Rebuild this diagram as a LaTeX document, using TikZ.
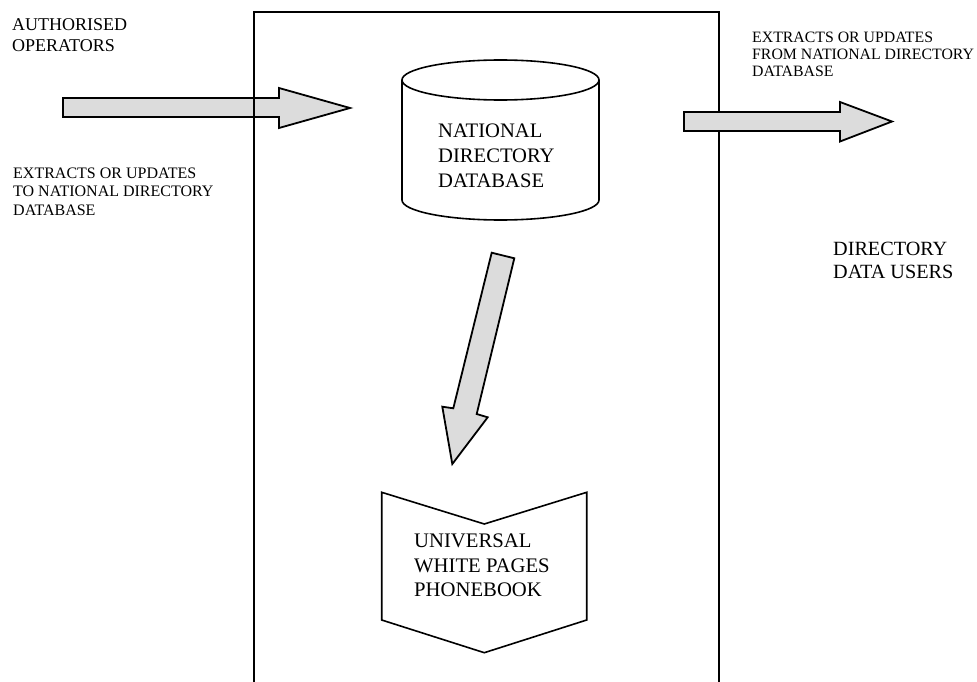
\documentclass[tikz,border=0pt]{standalone}
\usepackage{fontspec}
\setmainfont{Liberation Serif}
\definecolor{arrowgray}{RGB}{220,220,220}
\tikzset{
  blockarrow/.style={draw=black, line width=1.8pt, fill=arrowgray, line join=miter},
  framebox/.style={draw=black, line width=2pt},
  symbolshape/.style={draw=black, line width=1.6pt, fill=white, line join=miter},
  txt/.style={inner sep=0pt, align=left, anchor=base west, text=black},
}
\begin{document}
\begin{tikzpicture}[x=1pt, y=-1pt]
  \useasboundingbox (0,0) rectangle (977,682);

  % incoming block arrow (under the frame line)
  \draw[blockarrow] (63,98) -- (279,98) -- (279,88) -- (350,108) -- (279,128) -- (279,117) -- (63,117) -- cycle;

  % frame (open at the bottom)
  \draw[framebox] (254,682) -- (254,12) -- (719,12) -- (719,682);

  % outgoing block arrow (over the frame line)
  \draw[blockarrow] (684,112) -- (840,112) -- (840,102) -- (892,121.5) -- (840,141.5) -- (840,131) -- (684,131) -- cycle;

  % database cylinder
  \draw[symbolshape] (402,80) -- (402,200) arc[start angle=180, end angle=360, x radius=98.5pt, y radius=20pt] -- (599,80);
  \draw[symbolshape] (500.5,80) ellipse [x radius=98.5pt, y radius=20pt];

  % downward block arrow
  \draw[blockarrow] (491.7,252.7) -- (514.3,258.3) -- (476.7,414) -- (487.7,417.3) -- (452.3,464) -- (442.3,406.7) -- (453.3,408.3) -- cycle;

  % phonebook shape
  \draw[symbolshape] (381.7,492.3) -- (484.3,524) -- (586.7,492.3) -- (586.7,620) -- (484.3,652.7) -- (381.7,620) -- cycle;

  % texts (anchored at the baseline of the last line)
  \node[txt, font=\fontsize{18}{21}\selectfont] (auth) at (12,51.7) {AUTHORISED\\OPERATORS};
  \node[txt, font=\fontsize{16}{18.2}\selectfont] (inlabel) at (13,215) {EXTRACTS OR UPDATES\\TO NATIONAL DIRECTORY\\DATABASE};
  \node[txt, font=\fontsize{15.8}{17}\selectfont] (outlabel) at (752,77) {EXTRACTS OR UPDATES\\FROM NATIONAL DIRECTORY\\DATABASE};
  \node[txt, font=\fontsize{20.6}{25.3}\selectfont] (ndd) at (438,187.6) {NATIONAL\\DIRECTORY\\DATABASE};
  \node[txt, font=\fontsize{20.7}{24.7}\selectfont] (uwp) at (414,596.7) {UNIVERSAL\\WHITE PAGES\\PHONEBOOK};
  \node[txt, font=\fontsize{20.2}{23.3}\selectfont] (users) at (833,278.3) {DIRECTORY\\DATA USERS};
\end{tikzpicture}
\end{document}
